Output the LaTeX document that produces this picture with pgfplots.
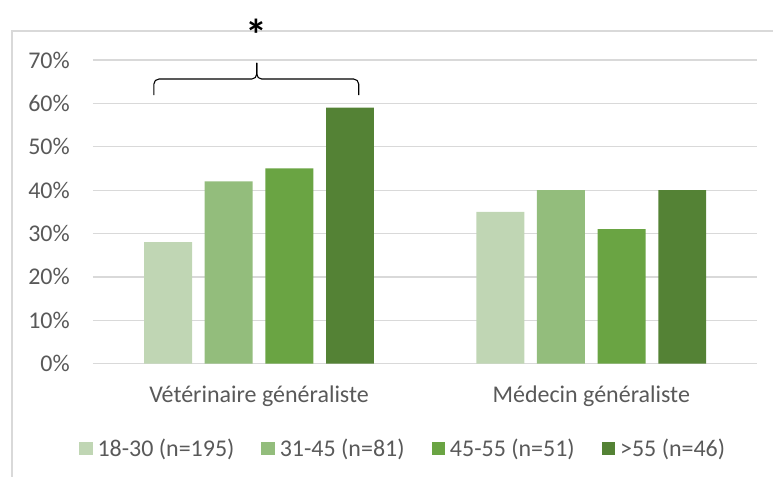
\documentclass[border=0pt]{standalone}
\usepackage{pgfplots}
\pgfplotsset{compat=1.18}
\usepackage{fontspec}
\setmainfont{Carlito}
\definecolor{g1}{HTML}{C0D6B4}
\definecolor{g2}{HTML}{93BD7C}
\definecolor{g3}{HTML}{6AA443}
\definecolor{g4}{HTML}{548235}
\definecolor{txt}{HTML}{595959}
\definecolor{gridc}{HTML}{D9D9D9}

\begin{document}
\begin{tikzpicture}[x=1pt,y=1pt]
\path (0,0) rectangle (774,477);
\draw[gridc, line width=1.3pt] (12,0) -- (12,446) -- (774,446);
\begin{axis}[
  at={(93pt,113pt)}, anchor=south west,
  scale only axis, width=665pt, height=304pt,
  ybar=12.7pt, bar width=48pt,
  xmin=-0.5, xmax=1.5, ymin=0, ymax=70,
  xtick={0,1},
  xticklabels={Vétérinaire généraliste, Médecin généraliste},
  ytick={0,10,...,70},
  yticklabel={\pgfmathprintnumber{\tick}\%},
  /pgf/number format/assume math mode=true,
  ymajorgrids, grid style={gridc, line width=1.2pt},
  axis x line*=bottom, axis y line*=left,
  x axis line style={gridc, line width=1.2pt, -},
  y axis line style={draw=none},
  major tick length=0pt,
  tick label style={font=\fontsize{24}{28}\selectfont, text=txt, inner sep=0pt},
  yticklabel style={anchor=east, xshift=-23pt},
  xticklabel style={anchor=north, yshift=-22pt},
  clip=false,
  legend columns=4,
  legend style={at={(-0.021,-0.2796)}, anchor=west, draw=none, fill=none,
    font=\fontsize{24}{28}\selectfont, text=txt, inner sep=0pt,
    nodes={inner sep=0pt},
    /tikz/every odd column/.append style={column sep=5pt},
    /tikz/every even column/.append style={column sep=27pt}},
  legend image code/.code={\fill[#1] (0pt,-6.7pt) rectangle (13.4pt,6.7pt);},
]
\addplot[fill=g1, draw=none] coordinates {(0,28) (1,35)};
\addplot[fill=g2, draw=none] coordinates {(0,42) (1,40)};
\addplot[fill=g3, draw=none] coordinates {(0,45) (1,31)};
\addplot[fill=g4, draw=none] coordinates {(0,59) (1,40)};
\legend{18-30 (n=195), 31-45 (n=81), 45-55 (n=51), >55 (n=46)}
\draw[black, line width=1.1pt, rounded corners=5pt]
  (axis cs:-0.3165,61.9) -- (axis cs:-0.3165,65.6) -- (axis cs:-0.0068,65.6) -- (axis cs:-0.0068,69.3);
\draw[black, line width=1.1pt, rounded corners=5pt]
  (axis cs:0.3,61.9) -- (axis cs:0.3,65.6) -- (axis cs:-0.0068,65.6) -- (axis cs:-0.0068,69.3);
\node[font=\fontsize{44}{44}\selectfont\bfseries, inner sep=0pt] at (axis cs:-0.0068,75.9) {*};
\end{axis}
\end{tikzpicture}
\end{document}
